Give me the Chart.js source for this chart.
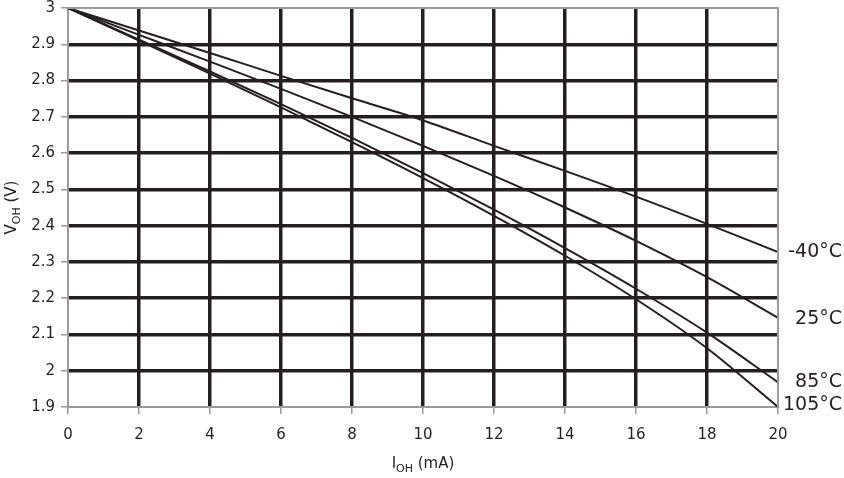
<!DOCTYPE html>
<html>
<head>
<meta charset="utf-8">
<script src="https://cdn.jsdelivr.net/npm/chart.js@4/dist/chart.umd.min.js"></script>
<style>
  html, body { margin: 0; padding: 0; background: #fff; }
  #wrap { width: 844px; height: 478px; }
</style>
</head>
<body>
<div id="wrap"><canvas id="myChart"></canvas></div>
<script>
// I_OH in mA
var currents = [0, 2, 4, 6, 8, 10, 12, 14, 16, 18, 20];
// V_OH in volts
var vMinus40 = [3, 2.938, 2.876, 2.813, 2.751, 2.690, 2.620, 2.551, 2.480, 2.405, 2.327];
var v25 = [3, 2.926, 2.852, 2.777, 2.700, 2.620, 2.537, 2.450, 2.358, 2.258, 2.146];
var v85 = [3, 2.913, 2.825, 2.735, 2.642, 2.545, 2.444, 2.338, 2.226, 2.105, 1.968];
var v105 = [3, 2.910, 2.819, 2.726, 2.630, 2.531, 2.427, 2.317, 2.197, 2.062, 1.900];
var seriesLabels = ['-40°C', '25°C', '85°C', '105°C'];

var ink = '#231f20';
var edge = '#9a9a9a';
var fontFam = '"DejaVu Sans", "Liberation Sans", Arial, sans-serif';

function pts(vals) {
    return vals.map(function (v, i) { return { x: currents[i], y: v }; });
}

// end labels, top/right border and axis titles with subscripts
var extras = {
    id: 'extras',
    afterDraw: function (chart) {
        var ctx = chart.ctx;
        var ys = chart.scales.y;
        var area = chart.chartArea;
        ctx.save();
        ctx.fillStyle = ink;
        ctx.strokeStyle = edge;
        ctx.lineWidth = 2;
        ctx.beginPath();
        ctx.moveTo(area.left, area.top);
        ctx.lineTo(area.right, area.top);
        ctx.lineTo(area.right, area.bottom);
        ctx.stroke();

        // series names, right aligned at the canvas edge
        ctx.font = '19px ' + fontFam;
        ctx.textAlign = 'right';
        ctx.textBaseline = 'middle';
        var offs = [0, 1, 0, -2];
        chart.data.datasets.forEach(function (ds, i) {
            var last = ds.data[ds.data.length - 1];
            ctx.fillText(ds.label, chart.width - 2, ys.getPixelForValue(last.y) + offs[i]);
        });

        ctx.textAlign = 'left';
        ctx.textBaseline = 'alphabetic';
        function sub(main, s, rest, x, y) {
            ctx.font = '15px ' + fontFam;
            var w1 = ctx.measureText(main).width;
            var w3 = ctx.measureText(rest).width;
            ctx.font = '11px ' + fontFam;
            var w2 = ctx.measureText(s).width;
            var sx = x - (w1 + w2 + w3) / 2;
            ctx.font = '15px ' + fontFam;
            ctx.fillText(main, sx, y);
            ctx.fillText(rest, sx + w1 + w2, y);
            ctx.font = '11px ' + fontFam;
            ctx.fillText(s, sx + w1, y + 4);
        }
        sub('I', 'OH', ' (mA)', (area.left + area.right) / 2, 468);

        ctx.translate(16, (area.top + area.bottom) / 2);
        ctx.rotate(-Math.PI / 2);
        sub('V', 'OH', ' (V)', 0, 0);
        ctx.restore();
    }
};

function gridColor(c) {
    var t = c.scale.ticks;
    if (c.index === 0 || c.index === t.length - 1) return 'rgba(0,0,0,0)';
    return ink;
}

function createChart() {
    const ctx = document.getElementById('myChart');
    new Chart(ctx, {
        type: 'line',
        data: {
            datasets: [
                { label: seriesLabels[0], data: pts(vMinus40) },
                { label: seriesLabels[1], data: pts(v25) },
                { label: seriesLabels[2], data: pts(v85) },
                { label: seriesLabels[3], data: pts(v105) }
            ]
        },
        options: {
            responsive: true,
            maintainAspectRatio: false,
            animation: false,
            layout: { padding: { left: 0, top: 8, right: 66, bottom: 0 } },
            elements: {
                line: { borderColor: ink, borderWidth: 2, cubicInterpolationMode: 'monotone' },
                point: { radius: 0 }
            },
            plugins: {
                legend: { display: false },
                tooltip: { enabled: false }
            },
            scales: {
                x: {
                    type: 'linear',
                    min: 0,
                    max: 20,
                    ticks: {
                        stepSize: 2,
                        color: ink,
                        font: { family: fontFam, size: 15 },
                        padding: 12
                    },
                    grid: {
                        color: gridColor,
                        lineWidth: 3.5,
                        tickColor: edge,
                        tickLength: 7,
                        tickWidth: 1.5
                    },
                    border: { color: edge, width: 2 },
                    afterFit: function (s) { s.height = 71; s.paddingLeft = 0; s.paddingRight = 0; }
                },
                y: {
                    type: 'linear',
                    min: 1.9,
                    max: 3,
                    ticks: {
                        stepSize: 0.1,
                        color: ink,
                        font: { family: fontFam, size: 15 },
                        padding: 6,
                        callback: function (v) { return String(Number(v.toFixed(1))); }
                    },
                    grid: {
                        color: gridColor,
                        lineWidth: 3.5,
                        tickColor: edge,
                        tickLength: 7,
                        tickWidth: 1.5
                    },
                    border: { color: edge, width: 2 },
                    afterFit: function (s) { s.width = 68; s.paddingTop = 0; s.paddingBottom = 0; }
                }
            }
        },
        plugins: [extras]
    });
}
createChart();
</script>
</body>
</html>
